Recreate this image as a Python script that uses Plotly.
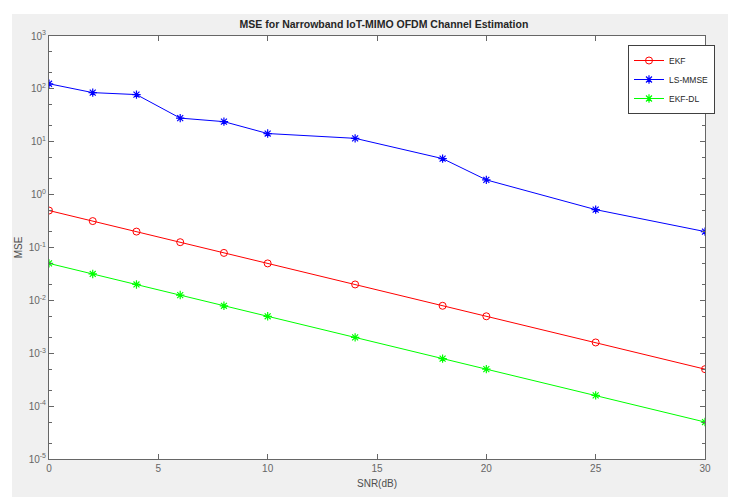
import plotly.graph_objects as go

snr = [0, 2, 4, 6, 8, 10, 14, 18, 20, 25, 30]
ekf = [0.5, 0.316, 0.2, 0.126, 0.079, 0.05, 0.02, 0.0079, 0.005, 0.0016, 0.0005]
ls_mmse = [125, 85, 78, 28, 24, 14.3, 11.6, 4.8, 1.9, 0.52, 0.2]
ekf_dl = [0.05, 0.0316, 0.02, 0.0126, 0.0079, 0.005, 0.002, 0.00079, 0.0005, 0.00016, 0.00005]
x_ticks = [0, 5, 10, 15, 20, 25, 30]
y_ticks = [1e-5, 1e-4, 1e-3, 1e-2, 1e-1, 1e0, 1e1, 1e2, 1e3]
y_labels = ["10<sup>-5</sup>", "10<sup>-4</sup>", "10<sup>-3</sup>", "10<sup>-2</sup>",
            "10<sup>-1</sup>", "10<sup>0</sup>", "10<sup>1</sup>", "10<sup>2</sup>", "10<sup>3</sup>"]

W, H = 735, 497
L, R, T, B = 49, 705, 36, 459
pw, ph = R - L, B - T

def px(xp):
    return (xp - L) / pw

def py(yp):
    return (B - yp) / ph

fig = go.Figure()
fig.add_trace(go.Scatter(x=snr, y=ekf, name="EKF", mode="lines+markers",
                         line=dict(color="#ff0000", width=1),
                         marker=dict(symbol="circle-open", size=7, color="#ff0000", line=dict(width=1))))
fig.add_trace(go.Scatter(x=snr, y=ls_mmse, name="LS-MMSE", mode="lines+markers",
                         line=dict(color="#0000ff", width=1),
                         marker=dict(symbol="asterisk-open", size=7, color="#0000ff", line=dict(width=1.2))))
fig.add_trace(go.Scatter(x=snr, y=ekf_dl, name="EKF-DL", mode="lines+markers",
                         line=dict(color="#00ff00", width=1),
                         marker=dict(symbol="asterisk-open", size=7, color="#00ff00", line=dict(width=1.2))))

axis_col = "#666666"
font_fam = "Liberation Sans, Arial, sans-serif"

fig.update_layout(
    width=W, height=H,
    margin=dict(l=L, r=W - R, t=T, b=H - B, pad=0, autoexpand=False),
    paper_bgcolor="#f0f0f0",
    plot_bgcolor="white",
    font=dict(family=font_fam, size=10, color="#4d4d4d"),
    title=dict(text="<b>MSE for Narrowband IoT-MIMO OFDM Channel Estimation</b>",
               x=384 / W, xanchor="center", y=1 - 24 / H, yanchor="middle",
               font=dict(size=10.5, color="#262626", family=font_fam)),
    showlegend=True,
    legend=dict(x=px(628), y=py(45), xanchor="left", yanchor="top",
                bgcolor="white", bordercolor="#404040", borderwidth=1,
                font=dict(size=8.5, color="#262626", family=font_fam),
                tracegroupgap=0, itemwidth=30),
    xaxis=dict(range=[0, 30], tickvals=x_ticks, ticks="inside", ticklen=5,
               tickcolor=axis_col, showline=True, linecolor=axis_col, linewidth=1,
               mirror="ticks", showgrid=False, zeroline=False, automargin=False,
               title=dict(text="SNR(dB)", standoff=6, font=dict(size=10, color="#4d4d4d")),
               tickfont=dict(size=10, color="#666666")),
    yaxis=dict(type="log", range=[-5, 3], tickvals=y_ticks, ticktext=y_labels,
               ticks="inside", ticklen=5, tickcolor=axis_col,
               showline=True, linecolor=axis_col, linewidth=1, mirror="ticks",
               showgrid=False, zeroline=False, automargin=False,
               minor=dict(ticks="inside", ticklen=3, tickcolor=axis_col, showgrid=False),
               title=dict(text="MSE", standoff=4, font=dict(size=10, color="#4d4d4d")),
               tickfont=dict(size=10, color="#666666")),
    shapes=[
        dict(type="rect", xref="paper", yref="paper", x0=px(-5), x1=px(W + 5),
             y0=py(14), y1=py(-5), fillcolor="white", line=dict(width=0), layer="above"),
        dict(type="rect", xref="paper", yref="paper", x0=px(-5), x1=px(12),
             y0=py(-5), y1=py(H + 5), fillcolor="white", line=dict(width=0), layer="above"),
        dict(type="rect", xref="paper", yref="paper", x0=px(728), x1=px(W + 5),
             y0=py(-5), y1=py(H + 5), fillcolor="white", line=dict(width=0), layer="above"),
    ],
)

fig.write_html("out.html", config={"displayModeBar": False},
               post_script="document.body.style.margin='0';document.body.style.overflow='hidden';")
